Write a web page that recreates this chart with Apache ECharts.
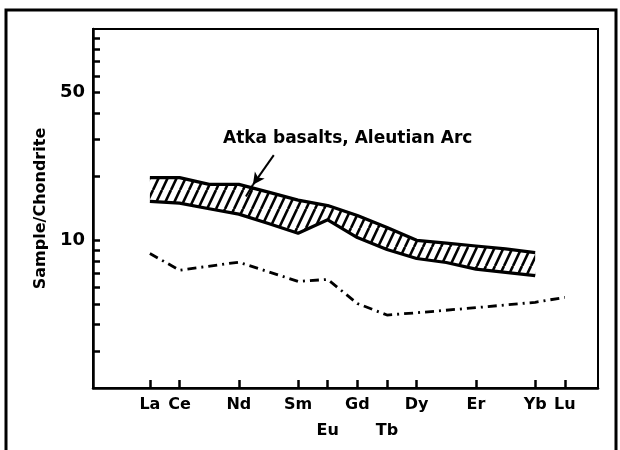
<!DOCTYPE html>
<html>
<head>
<meta charset="utf-8">
<script src="https://cdn.jsdelivr.net/npm/echarts@6/dist/echarts.min.js"></script>
<style>
  html, body { margin: 0; padding: 0; background: #fff; }
  #chart { width: 620px; height: 450px; }
</style>
</head>
<body>
<div id="chart"></div>
<script>
// rare earth elements, La..Lu, one slot each on the x axis
const ree = ["La", "Ce", "Pr", "Nd", "Pm", "Sm", "Eu", "Gd", "Tb", "Dy", "Ho", "Er", "Tm", "Yb", "Lu"];
const tickEls = ["La", "Ce", "Nd", "Sm", "Eu", "Gd", "Tb", "Dy", "Er", "Yb", "Lu"];
const lowerRowEls = ["Eu", "Tb"];

// hatched field: Atka basalts (La..Yb)
const bandEls = ["La", "Ce", "Pr", "Nd", "Pm", "Sm", "Eu", "Gd", "Tb", "Dy", "Ho", "Er", "Tm", "Yb"];
const bandLow = [15.3, 15.0, 14.1, 13.3, 12.0, 10.8, 12.5, 10.3, 9.05, 8.2, 7.85, 7.3, 7.05, 6.8];
const bandHigh = [19.8, 19.8, 18.4, 18.4, 16.9, 15.5, 14.6, 13.1, 11.5, 10.0, 9.7, 9.4, 9.1, 8.75];

// dash-dot pattern
const dashEls = ["La", "Ce", "Nd", "Sm", "Eu", "Gd", "Tb", "Dy", "Er", "Yb", "Lu"];
const dashVals = [8.66, 7.22, 7.88, 6.39, 6.53, 5.02, 4.43, 4.54, 4.8, 5.09, 5.37];

const yTicks = [3, 4, 5, 6, 7, 8, 9, 10, 20, 30, 40, 50, 60, 70, 80, 90];
const yLabels = [10, 50];

const font = "DejaVu Sans";

function hatchPattern() {
    const w = 9, h = 19;
    const c = document.createElement("canvas");
    c.width = w;
    c.height = h;
    const ctx = c.getContext("2d");
    ctx.strokeStyle = "#000";
    ctx.lineWidth = 2.6;
    for (const x0 of [-w, 0, w]) {
        ctx.beginPath();
        ctx.moveTo(x0, h);
        ctx.lineTo(x0 + w, 0);
        ctx.stroke();
    }
    return c;
}

const idx = (e) => ree.indexOf(e);
const hatch = hatchPattern();

// whole field drawn once, as one polygon + its two edges
function renderBand(params, api) {
    if (params.dataIndex !== 0) return null;
    const top = bandEls.map((e, i) => api.coord([idx(e), bandHigh[i]]));
    const bot = bandEls.map((e, i) => api.coord([idx(e), bandLow[i]]));
    return {
        type: "group",
        children: [
            {
                type: "polygon",
                shape: { points: top.concat(bot.slice().reverse()) },
                style: { fill: { image: hatch, repeat: "repeat" }, stroke: null },
            },
            {
                type: "polyline",
                shape: { points: top },
                style: { fill: null, stroke: "#000", lineWidth: 3.2, lineJoin: "round" },
            },
            {
                type: "polyline",
                shape: { points: bot },
                style: { fill: null, stroke: "#000", lineWidth: 3.2, lineJoin: "round" },
            },
        ],
    };
}

const chart = echarts.init(document.getElementById("chart"));

chart.setOption({
    animation: false,
    backgroundColor: "#fff",
    grid: { left: 93, right: 22, top: 29, bottom: 62, show: true, borderColor: "#000", borderWidth: 2 },
    xAxis: {
        type: "value",
        min: -1.92,
        max: 15.12,
        axisLine: { onZero: false, lineStyle: { color: "#000", width: 2.5 } },
        axisTick: {
            customValues: tickEls.map(idx),
            inside: true,
            length: 8,
            lineStyle: { color: "#000", width: 2.5 },
        },
        axisLabel: {
            customValues: tickEls.map(idx),
            formatter: (v) => {
                const e = ree[Math.round(v)];
                return lowerRowEls.includes(e) ? "\n" + e : e;
            },
            color: "#000",
            fontFamily: font,
            fontWeight: "bold",
            fontSize: 16,
            lineHeight: 26,
            margin: 4,
        },
        splitLine: { show: false },
    },
    yAxis: {
        type: "log",
        logBase: 10,
        min: 2,
        max: 100,
        name: "Sample/Chondrite",
        nameLocation: "middle",
        nameGap: 39,
        nameTextStyle: { color: "#000", fontFamily: font, fontWeight: "bold", fontSize: 16 },
        axisLine: { onZero: false, lineStyle: { color: "#000", width: 2.5 } },
        axisTick: {
            customValues: yTicks,
            inside: true,
            length: 7,
            lineStyle: { color: "#000", width: 2.5 },
        },
        axisLabel: {
            customValues: yLabels,
            color: "#000",
            fontFamily: font,
            fontWeight: "bold",
            fontSize: 18,
            margin: 8,
        },
        splitLine: { show: false },
    },
    graphic: [
        {
            type: "rect",
            shape: { x: 6, y: 10, width: 610, height: 470 },
            style: { fill: "none", stroke: "#000", lineWidth: 3 },
            silent: true,
        },
        {
            type: "text",
            left: 223,
            top: 130,
            style: {
                text: "Atka basalts, Aleutian Arc",
                fill: "#000",
                font: "bold 17px " + font,
            },
        },
    ],
    series: [
        {
            name: "band",
            type: "custom",
            coordinateSystem: "cartesian2d",
            data: bandEls.map((e, i) => [idx(e), bandLow[i], bandHigh[i]]),
            encode: { x: 0, y: [1, 2] },
            renderItem: renderBand,
            silent: true,
        },
        {
            name: "dash",
            type: "line",
            data: dashEls.map((e, i) => [idx(e), dashVals[i]]),
            symbol: "none",
            lineStyle: { color: "#000", width: 2.8, type: [9, 5, 2, 5] },
            silent: true,
            markLine: {
                silent: true,
                label: { show: false },
                lineStyle: { color: "#000", width: 2, type: "solid" },
                data: [
                    [
                        { coord: [4.18, 25.3], symbol: "none" },
                        { coord: [3.475, 18.3], symbol: "arrow", symbolSize: [9, 12] },
                    ],
                    [
                        { coord: [3.475, 18.3], symbol: "none" },
                        { coord: [3.24, 16.1], symbol: "none" },
                    ],
                ],
            },
        },
    ],
});
</script>
</body>
</html>
